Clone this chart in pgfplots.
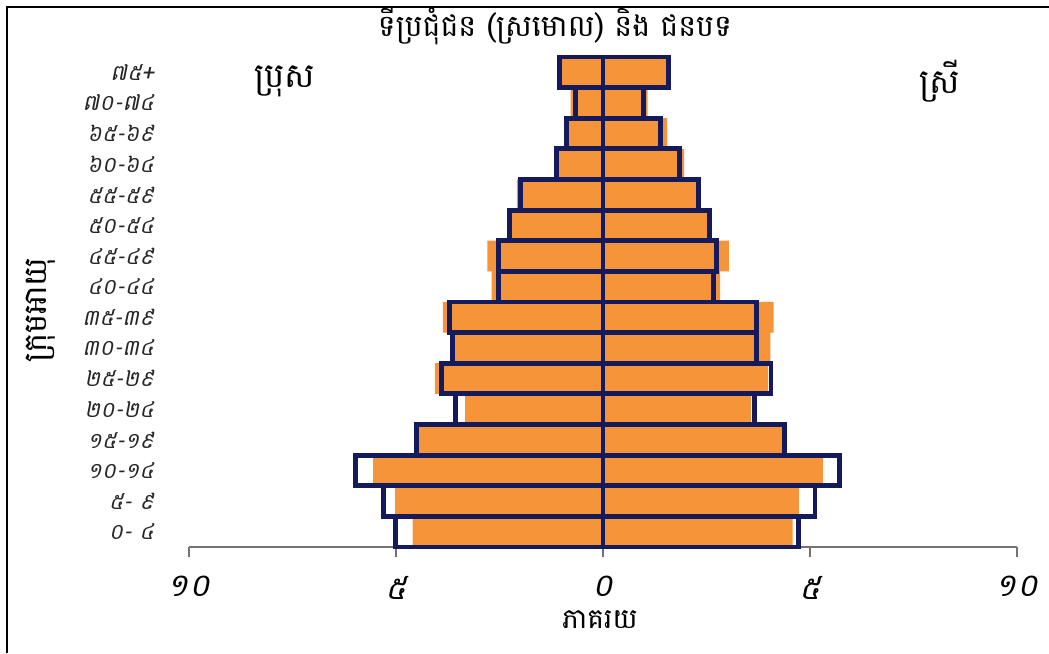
\documentclass[border=0pt]{standalone}
\usepackage{pgfplots}
\pgfplotsset{compat=1.18}
\usepackage{fontspec}
\newfontfamily\khmer[Script=Khmer]{Battambang}
\newfontfamily\khmerit[Script=Khmer,FakeSlant=0.2]{Battambang}
\definecolor{barorange}{HTML}{F59438}
\definecolor{barnavy}{HTML}{131B5C}

% ស្រមោល (shadow) = outline bars; filled = rural
\pgfplotstableread{
y  m     f
0  -4.60 4.58
1  -5.02 4.73
2  -5.55 5.31
3  -4.45 4.33
4  -3.33 3.57
5  -4.06 3.99
6  -3.68 4.04
7  -3.87 4.12
8  -2.69 2.83
9  -2.79 3.04
10 -2.28 2.55
11 -2.08 2.27
12 -1.15 1.96
13 -0.92 1.55
14 -0.78 1.08
15 -1.00 1.55
}\rural
\pgfplotstableread{
y  m     f
0  -5.01 4.73
1  -5.31 5.12
2  -5.97 5.71
3  -4.50 4.38
4  -3.57 3.66
5  -3.91 4.06
6  -3.64 3.71
7  -3.70 3.71
8  -2.52 2.67
9  -2.52 2.75
10 -2.26 2.58
11 -2.00 2.30
12 -1.13 1.84
13 -0.88 1.39
14 -0.67 0.98
15 -1.05 1.59
}\urban

\begin{document}
\begin{tikzpicture}
\useasboundingbox (-94.5pt,-53pt) rectangle (430pt,273.5pt);
\draw[black,line width=0.8pt] (-91pt,-53pt) -- (-91pt,270pt) -- (430pt,270pt);
\begin{axis}[
    at={(0,0)}, anchor=south west,
    scale only axis,
    width=414pt, height=245pt,
    xmin=-10, xmax=10,
    ymin=-0.5, ymax=15.5,
    axis lines*=left,
    x axis line style={gray!90!black, line width=0.6pt},
    y axis line style={draw=none},
    xtick={-10,-5,0,5,10},
    xticklabels={១០,៥,០,៥,១០},
    xtick style={gray!90!black, line width=0.6pt},
    tick align=outside,
    major tick length=5pt,
    xticklabel style={font=\khmerit\fontsize{16}{18}\selectfont, yshift=-6pt},
    ytick={0,...,15},
    yticklabels={០- ៤,៥- ៩,១០-១៤,១៥-១៩,២០-២៤,២៥-២៩,៣០-៣៤,៣៥-៣៩,៤០-៤៤,៤៥-៤៩,៥០-៥៤,៥៥-៥៩,៦០-៦៤,៦៥-៦៩,៧០-៧៤,៧៥+},
    ytick style={draw=none},
    yticklabel style={font=\khmerit\fontsize{11}{12}\selectfont, xshift=-9pt, text=black!85},
    clip=false,
]
\addplot[xbar, bar width=1, bar shift=0pt, fill=barorange, draw=none] table[x=m, y=y] {\rural};
\addplot[xbar, bar width=1, bar shift=0pt, fill=barorange, draw=none] table[x=f, y=y] {\rural};
\addplot[xbar, bar width=1, bar shift=0pt, fill=none, draw=barnavy, line width=2.4pt] table[x=m, y=y] {\urban};
\addplot[xbar, bar width=1, bar shift=0pt, fill=none, draw=barnavy, line width=2.4pt] table[x=f, y=y] {\urban};
\end{axis}
\node[font=\khmer\fontsize{15}{18}\selectfont] at (183pt,260.5pt) {ទីប្រជុំជន (ស្រមោល) និង ជនបទ};
\node[font=\khmer\fontsize{17}{20}\selectfont] at (48pt,233pt) {ប្រុស};
\node[font=\khmer\fontsize{17}{20}\selectfont] at (375.5pt,233pt) {ស្រី};
\node[font=\khmer\fontsize{16}{20}\selectfont, rotate=90] at (-74pt,118.5pt) {ក្រុមអាយុ};
\node[font=\khmer\fontsize{14}{16}\selectfont] at (205.5pt,-36.5pt) {ភាគរយ};
\end{tikzpicture}
\end{document}
